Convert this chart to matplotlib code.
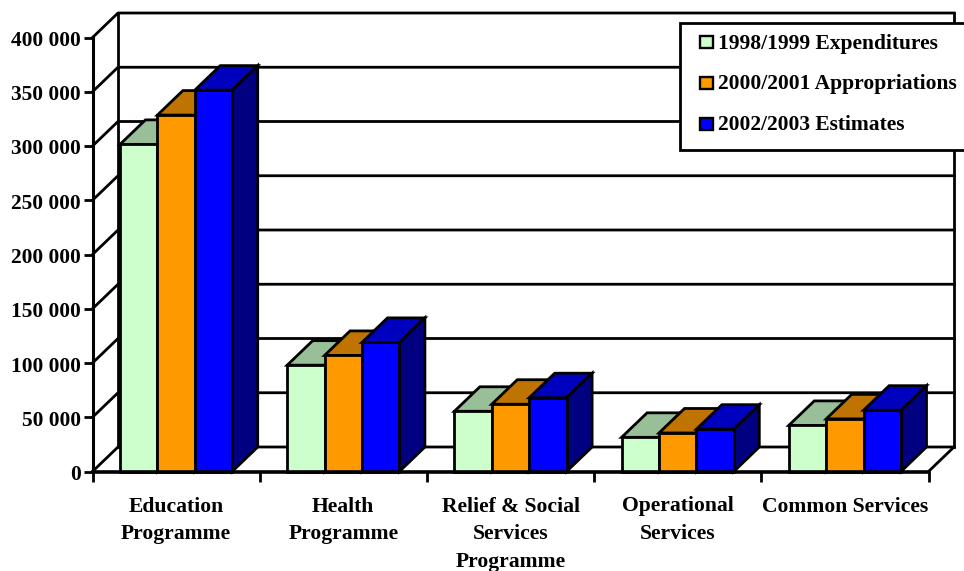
import matplotlib
matplotlib.use('Agg')
import matplotlib.pyplot as plt
from matplotlib.patches import Polygon, Rectangle
from matplotlib.transforms import ScaledTranslation

plt.rcParams['font.family'] = ['Liberation Serif', 'DejaVu Serif']
plt.rcParams['font.weight'] = 'bold'

categories = ['Education\nProgramme', 'Health\nProgramme',
              'Relief & Social\nServices\nProgramme',
              'Operational\nServices', 'Common Services']
series_names = ['1998/1999 Expenditures', '2000/2001 Appropriations', '2002/2003 Estimates']
expenditures = [301500, 98000, 55500, 31500, 42500]
appropriations = [328500, 107000, 62000, 35500, 48500]
estimates = [351500, 119000, 68000, 39000, 56500]
yticks = [0, 50000, 100000, 150000, 200000, 250000, 300000, 350000, 400000]
ylabels = ['0', '50 000', '100 000', '150 000', '200 000', '250 000', '300 000', '350 000', '400 000']

front_colors = ['#CCFFCC', '#FF9900', '#0000FF']
top_colors = ['#99BF99', '#BF7300', '#0000BF']
side_colors = ['#668066', '#804C00', '#000080']

W, H = 964, 571
fig = plt.figure(figsize=(W / 100, H / 100), dpi=100)
ax = fig.add_axes([92.5 / W, (H - 471.5) / H, (928.5 - 92.5) / W, (471.5 - 37.5) / H])
ax.set_xlim(0, len(categories))
ax.set_ylim(0, 400000)
for s in ax.spines.values():
    s.set_visible(False)
ax.patch.set_visible(False)

# depth of the fake 3d box, in data units
dx = 25.5 / 167.2
dy = 24.5 / 434 * 400000
lw = 2.0

# back wall and left wall
for t in yticks:
    ax.plot([0, dx, len(categories) + dx], [t, t + dy, t + dy], color='black', lw=lw, clip_on=False, zorder=1)
ax.plot([dx, dx], [dy, 400000 + dy], color='black', lw=lw, clip_on=False, zorder=1)
ax.plot([len(categories) + dx, len(categories) + dx], [dy, 400000 + dy], color='black', lw=lw, clip_on=False, zorder=1)
ax.plot([len(categories), len(categories) + dx], [0, dy], color='black', lw=lw, clip_on=False, zorder=1)

# bars
bar_w = 37.4 / 167.2
start = 27.5 / 167.2
series = [expenditures, appropriations, estimates]
z = 2
for c in range(len(categories)):
    for k, vals in enumerate(series):
        x0 = c + start + k * bar_w
        x1 = x0 + bar_w
        v = vals[c]
        ax.add_patch(Polygon([(x0, v), (x1, v), (x1 + dx, v + dy), (x0 + dx, v + dy)], closed=True,
                             fc=top_colors[k], ec='black', lw=lw, clip_on=False, zorder=z, joinstyle='miter'))
        ax.add_patch(Polygon([(x1, 0), (x1 + dx, dy), (x1 + dx, v + dy), (x1, v)], closed=True,
                             fc=side_colors[k], ec='black', lw=lw, clip_on=False, zorder=z, joinstyle='miter'))
        ax.add_patch(Rectangle((x0, 0), bar_w, v, fc=front_colors[k], ec='black', lw=lw,
                               clip_on=False, zorder=z + 0.5, joinstyle='miter'))
        z += 1

# front axes
ax.plot([0, 0], [0, 400000], color='black', lw=2.2, clip_on=False, zorder=z)
ax.plot([0, len(categories)], [0, 0], color='black', lw=2.6, clip_on=False, zorder=z)

ax.set_xticks(range(len(categories) + 1))
ax.set_xticklabels([])
ax.set_yticks(yticks)
ax.set_yticklabels(ylabels, fontsize=15.4, fontweight='bold')
ax.tick_params(axis='y', length=6.5, width=2.0, pad=2)
ax.tick_params(axis='x', length=7, width=2.0)
down = ScaledTranslation(0, -1 / 100, fig.dpi_scale_trans)
for lab in ax.get_yticklabels():
    lab.set_transform(lab.get_transform() + down)

for c, name in enumerate(categories):
    ax.annotate(name, xy=(c + 0.5, 0), xycoords='data', xytext=(0, -25), textcoords='offset pixels',
                ha='center', va='top', fontsize=15.6, fontweight='bold', linespacing=1.53,
                annotation_clip=False)

# legend box runs off the right edge like the original
def px(x, y):
    return x / W, 1 - y / H

x0, y1 = px(680, 150)
x1, y0 = px(970, 23)
fig.add_artist(Rectangle((x0, y1), x1 - x0, y0 - y1, transform=fig.transFigure, fc='white', ec='black',
                         lw=lw, zorder=50, clip_on=False))
for name, col, yc in zip(series_names, front_colors, [42, 83, 124]):
    sx, sy = px(699.5, yc + 6)
    fig.add_artist(Rectangle((sx, sy), 13.5 / W, 12 / H, transform=fig.transFigure, fc=col, ec='black',
                             lw=1.7, zorder=51))
    tx, ty = px(717.5, yc + 1.5)
    fig.text(tx, ty, name, ha='left', va='center', fontsize=15.5, fontweight='bold', zorder=52)

fig.savefig('out.png', dpi=100)
